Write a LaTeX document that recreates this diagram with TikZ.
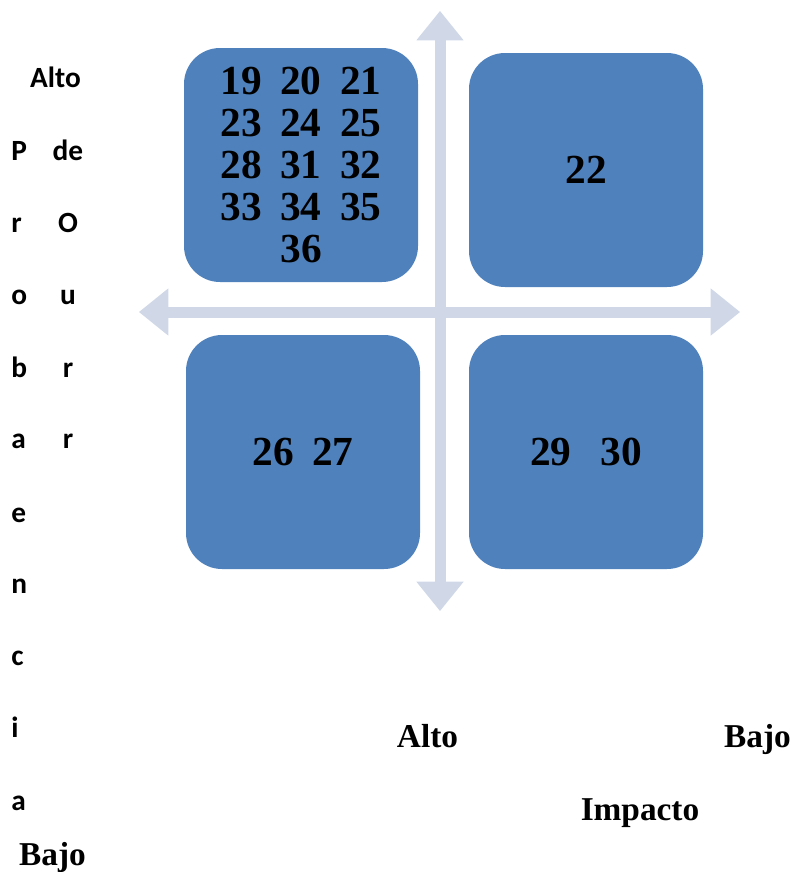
\documentclass[tikz,border=0pt]{standalone}
\usepackage{fontspec}
\setmainfont{Liberation Serif}
\newfontfamily\calibri{Carlito}
\usepackage{tikz}
\usetikzlibrary{arrows.meta}
\usetikzlibrary{calc,positioning}
\usepackage[dvipsnames]{xcolor}
\definecolor{cajaazul}{HTML}{4F81BD}
\definecolor{ejegris}{HTML}{D0D8E8}

\begin{document}
\begin{tikzpicture}[x=0.75pt,y=-0.75pt,
    caja/.style={rectangle, rounded corners=27pt, fill=cajaazul, minimum width=175.5pt, minimum height=175.5pt, inner sep=0pt, align=center, font=\bfseries\fontsize{31}{31.5}\selectfont},
    eje/.style={draw=ejegris, line width=8.25pt, {Triangle[width=35.5pt,length=22pt,line width=0pt]}-{Triangle[width=35.5pt,length=22pt,line width=0pt]}},
    letra/.style={font=\calibri\bfseries\fontsize{22}{26}\selectfont, inner sep=0pt},
    rotulo/.style={font=\bfseries\fontsize{25}{30}\selectfont, inner sep=0pt}]

            \useasboundingbox (0,0) rectangle (793,872);

            \coordinate (arriba) at (440,11);
            \coordinate (abajo) at (440,611);
            \coordinate (izq) at (139,312);
            \coordinate (der) at (740,312);

            \draw[eje] (izq) -- (der);
            \draw[eje] (arriba) -- (abajo);

            \node[caja] (altoalto) at (301,165) {19\hspace{14pt}20\hspace{14pt}21\\23\hspace{14pt}24\hspace{14pt}25\\28\hspace{14pt}31\hspace{14pt}32\\33\hspace{14pt}34\hspace{14pt}35\\36};
            \node[caja] (altobajo) at (586,170) {22};
            \node[caja] (bajoalto) at (303,452) {26\hspace{14pt}27};
            \node[caja] (bajobajo) at (586,452) {29\hspace{22pt}30};

            \node[letra,anchor=base] (alto) at (55.5,87) {Alto};
            \foreach \l/ \y in {P/160,r/232,o/304,b/377,a/448,e/522,n/593,c/665,i/737,a/810}{
                \node[letra,anchor=base west] (prob\y) at (11,\y) {\l};
            }
            \foreach \l/ \y in {de/160,O/232,u/304,r/377,r/448}{
                \node[letra,anchor=base] (occ\y) at (68,\y) {\l};
            }

            \node[rotulo,anchor=base] (impalto) at (427.5,747) {Alto};
            \node[rotulo,anchor=base] (impbajo) at (757.5,747) {Bajo};
            \node[rotulo,anchor=base] (impacto) at (640,820) {Impacto};
            \node[rotulo,anchor=base] (probbajo) at (52.5,865) {Bajo};

    \end{tikzpicture}
\end{document}
